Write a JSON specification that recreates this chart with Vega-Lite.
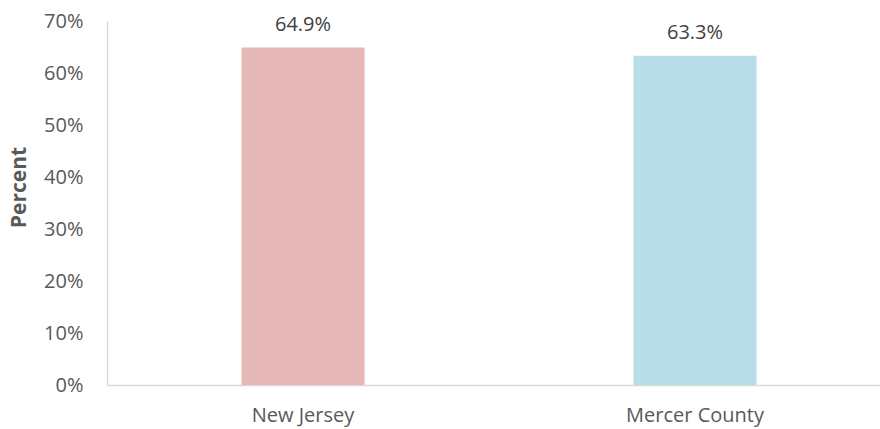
{
  "$schema": "https://vega.github.io/schema/vega-lite/v6.json",
  "width": 773,
  "height": 364,
  "autosize": "none",
  "padding": {"left": 107, "top": 21, "right": 0, "bottom": 44},
  "background": "white",
  "config": {
    "view": {"stroke": null},
    "font": "Open Sans"
  },
  "data": {
    "values": [
      {"area": "New Jersey", "percent": 64.9, "label": "64.9%"},
      {"area": "Mercer County", "percent": 63.3, "label": "63.3%"}
    ]
  },
  "encoding": {
    "x": {
      "field": "area",
      "type": "nominal",
      "sort": null,
      "scale": {"range": [0, 784], "paddingInner": 0.686, "paddingOuter": 0.343},
      "axis": {
        "title": null,
        "labelAngle": 0,
        "labelFont": "Open Sans",
        "labelFontSize": 20,
        "labelColor": "#595959",
        "labelPadding": 20,
        "ticks": false,
        "domainColor": "#D9D9D9",
        "domainWidth": 1.5
      }
    },
    "y": {
      "field": "percent",
      "type": "quantitative",
      "scale": {"domain": [0, 70], "nice": false},
      "axis": {
        "values": [0, 10, 20, 30, 40, 50, 60, 70],
        "labelExpr": "datum.value + '%'",
        "title": "Percent",
        "titleFont": "Open Sans",
        "titleFontSize": 21,
        "titleFontWeight": "bold",
        "titleColor": "#595959",
        "titlePadding": 14,
        "titleY": 166,
        "labelFont": "Open Sans",
        "labelFontSize": 20,
        "labelColor": "#595959",
        "labelPadding": 24,
        "ticks": false,
        "grid": false,
        "domainColor": "#D9D9D9",
        "domainWidth": 1.5
      }
    }
  },
  "layer": [
    {
      "mark": {"type": "bar"},
      "encoding": {
        "color": {
          "field": "area",
          "type": "nominal",
          "scale": {"domain": ["New Jersey", "Mercer County"], "range": ["#E6B8B7", "#B7DEE8"]},
          "legend": null
        }
      }
    },
    {
      "mark": {"type": "text", "baseline": "alphabetic", "dy": -17, "font": "Open Sans", "fontSize": 20, "color": "#404040"},
      "encoding": {"text": {"field": "label"}}
    }
  ]
}
